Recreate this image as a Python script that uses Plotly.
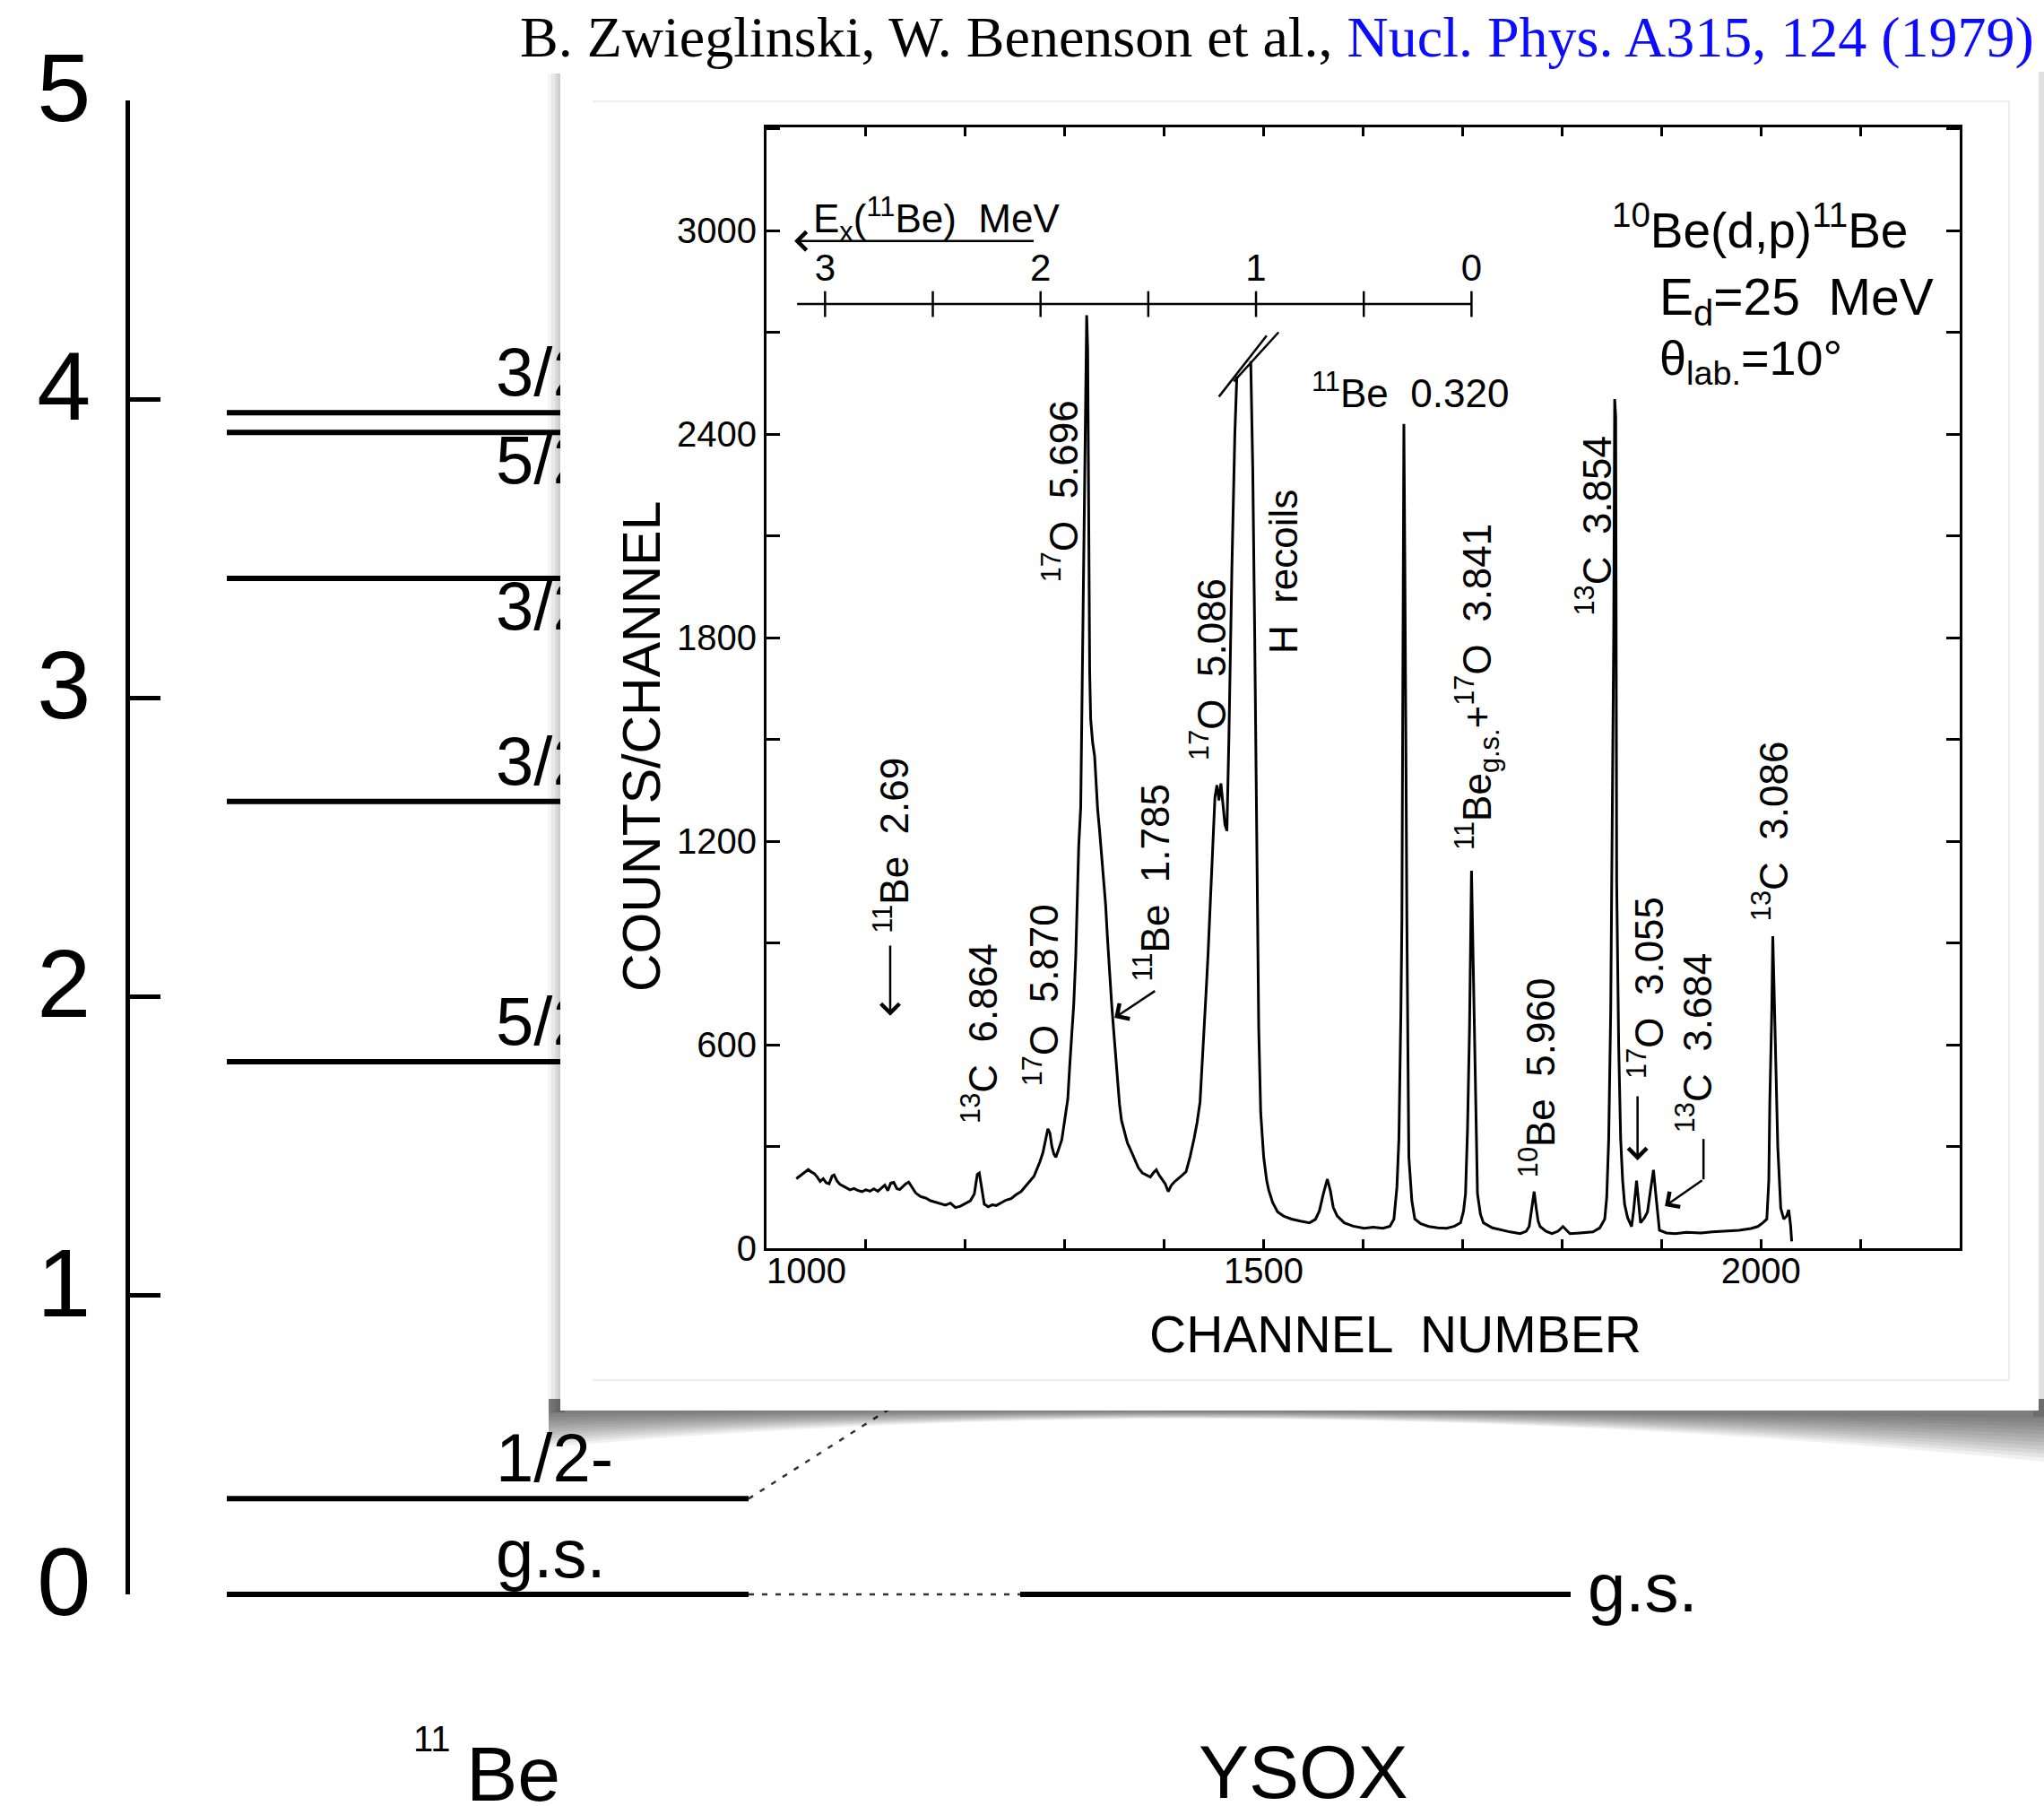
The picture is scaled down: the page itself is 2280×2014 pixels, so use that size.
import plotly.graph_objects as go

FIG_W, FIG_H = 2280, 2014

# ---------------- 11Be level scheme (MeV) ----------------
be11_energies = [0.0, 0.320, 1.783, 2.654, 3.400, 3.889, 3.955]
be11_spins = ["g.s.", "1/2-", "5/2+", "3/2-", "3/2-", "5/2-", "3/2-"]
be11_label_pos = ["top right", "top right", "top right", "top right",
                  "bottom right", "bottom right", "top right"]
ysox_energies = [0.0, 0.90]
ysox_labels = ["g.s.", ""]
# dotted links: (index in be11_energies, index in ysox_energies)
level_links = [(0, 0), (1, 1)]
energy_ticks = [0, 1, 2, 3, 4, 5]

# ---------------- 10Be(d,p)11Be spectrum, E_d = 25 MeV ----------------
spec_channel = [
    1030, 1034, 1038, 1042, 1045, 1048, 1051, 1054, 1057, 1060, 1063, 1066, 1068, 1071,
    1074, 1077, 1080, 1084, 1088, 1092, 1096, 1100, 1104, 1108, 1112, 1116, 1119, 1122,
    1125, 1128, 1131, 1134, 1137, 1140, 1143, 1146, 1150, 1155, 1160, 1165, 1170, 1175,
    1180, 1185, 1190, 1195, 1200, 1205, 1209, 1212, 1214, 1216, 1219, 1223, 1227, 1231,
    1236, 1241, 1246, 1251, 1256, 1261, 1265, 1269, 1272, 1275, 1278, 1281, 1283, 1285,
    1287, 1289, 1291, 1293, 1295, 1297, 1300, 1303, 1305, 1307, 1309, 1311, 1313, 1314,
    1316, 1318, 1320, 1322, 1323, 1324, 1325, 1326, 1328, 1330, 1333, 1335, 1337, 1339,
    1341, 1343, 1345, 1347, 1349, 1351, 1353, 1355, 1357, 1360, 1363, 1366, 1370, 1374,
    1378, 1382, 1386, 1389, 1392, 1395, 1398, 1401, 1404, 1407, 1410, 1414, 1418, 1422,
    1426, 1430, 1433, 1436, 1438, 1440, 1442, 1444, 1446, 1448, 1450, 1451, 1453, 1455,
    1457, 1459, 1461, 1463, 1465, 1468, 1471, 1473, None, 1487, 1489, 1491, 1493, 1495,
    1497, 1500, 1503, 1505, 1509, 1514, 1520, 1528, 1537, 1546, 1552, 1556, 1560, 1564,
    1567, 1570, 1574, 1581, 1590, 1601, 1610, 1620, 1627, 1631, 1634, 1636, 1638, 1639,
    1640, 1641, 1642, 1643, 1644, 1645, 1646, 1649, 1652, 1658, 1666, 1675, 1684, 1692,
    1698, 1701, 1703, 1705, 1707, 1709, 1711, 1712, 1714, 1715, 1718, 1721, 1730, 1739,
    1748, 1758, 1764, 1767, 1770, 1772, 1774, 1776, 1778, 1784, 1790, 1796, 1801, 1804,
    1808, 1818, 1831, 1838, 1843, 1845, 1847, 1849, 1850, 1852, 1853, 1854, 1855, 1857,
    1859, 1861, 1863, 1866, 1870, 1872, 1875, 1877, 1879, 1883, 1886, 1889, 1892, 1895,
    1898, 1905, 1914, 1925, 1940, 1951, 1965, 1978, 1990, 1997, 2002, 2006, 2008, 2009,
    2011, 2012, 2013, 2015, 2017, 2020, 2023, 2026, 2028, 2029, 2030, 2031,
]
spec_counts = [
    205, 214, 222, 232, 225, 220, 210, 197, 205, 193, 190, 213, 216, 198,
    188, 183, 178, 172, 176, 170, 167, 172, 168, 175, 168, 177, 186, 170,
    192, 194, 176, 173, 183, 190, 195, 180, 163, 152, 148, 140, 135, 130,
    127, 133, 120, 124, 131, 140, 160, 218, 222, 185, 130, 122, 128, 126,
    135, 142, 146, 158, 167, 183, 198, 212, 232, 255, 282, 320, 352, 340,
    300, 278, 268, 285, 305, 320, 380, 440, 540, 625, 720, 860, 1050, 1186,
    1300, 1800, 2350, 2750, 2650, 2200, 1700, 1560, 1490, 1450, 1294, 1230, 1165, 1090,
    1014, 910, 809, 725, 647, 565, 485, 425, 377, 340, 310, 291, 262, 237,
    222, 215, 210, 222, 231, 215, 204, 190, 167, 185, 195, 204, 215, 226,
    270, 323, 370, 431, 530, 647, 750, 863, 1000, 1132, 1280, 1330, 1365, 1320,
    1370, 1300, 1250, 1230, 1500, 2000, 2400, 2570, None, 2615, 2300, 1800, 1200, 650,
    400, 269, 200, 172, 135, 107, 95, 86, 80, 75, 85, 110, 160, 204,
    170, 120, 95, 75, 65, 59, 62, 59, 65, 86, 180, 323, 700, 970,
    1700, 2430, 2000, 1300, 970, 600, 269, 140, 86, 72, 64, 60, 59, 65,
    75, 110, 161, 350, 647, 1113, 800, 647, 300, 161, 100, 75, 60, 53,
    48, 43, 50, 64, 120, 167, 120, 80, 64, 50, 43, 50, 64, 55,
    43, 45, 48, 60, 86, 150, 323, 700, 1078, 1800, 2503, 2450, 1078, 600,
    323, 200, 129, 90, 64, 110, 199, 140, 75, 90, 107, 170, 231, 140,
    53, 45, 43, 47, 45, 48, 50, 53, 58, 64, 75, 86, 200, 431,
    700, 920, 800, 539, 300, 118, 86, 95, 113, 90, 64, 20,
]

# Ex(11Be) scale drawn above the spectrum
ex_ticks = [0, 0.5, 1, 1.5, 2, 2.5, 3]
ex_labelled = [0, 1, 2, 3]
ex_zero_channel = 1709.0
channels_per_mev = 216.7
ex_scale_end = 3.13

# "//" marks where the H-recoil peak runs off scale: (channel, counts) pairs
break_mark_a = ([1455, 1503], [2510, 2690])
break_mark_b = ([1470, 1515], [2555, 2700])

# peak identifications: text, channel, counts, angle
peak_labels = [
    ("<sup>11</sup>Be  2.69", 1126, 1187, -90),
    ("<sup>13</sup>C  6.864", 1214.6, 632, -90),
    ("<sup>17</sup>O  5.870", 1276, 745, -90),
    ("<sup>17</sup>O  5.696", 1296, 2231, -90),
    ("<sup>11</sup>Be  1.785", 1387, 1078, -90),
    ("<sup>17</sup>O  5.086", 1444.5, 1705, -90),
    ("H  recoils", 1520.3, 1993, -90),
    ("<sup>11</sup>Be  0.320", 1647.4, 2527, 0),
    ("<sup>11</sup>Be<sub>g.s.</sub>+<sup>17</sup>O  3.841", 1715, 1655, -90),
    ("<sup>13</sup>C  3.854", 1832, 2131, -90),
    ("<sup>10</sup>Be  5.960", 1774.6, 502, -90),
    ("<sup>17</sup>O  3.055", 1884.6, 767, -90),
    ("<sup>13</sup>C  3.684", 1932.4, 605, -90),
    ("<sup>13</sup>C  3.086", 2009, 1229, -90),
]
# arrows: head channel, head counts, tail channel, tail counts
peak_arrows = [
    (1124.4, 685, 1124.4, 896),
    (1350, 679, 1392, 761),
    (1876, 259, 1876, 452),
    (1903.5, 124, 1942.3, 203),
]
# vertical leg of the bent 13C 3.684 pointer
bent_leg = ([1942.3, 1942.3], [322, 203])

SANS = "Liberation Sans, Arial, sans-serif"
NARROW = "Liberation Sans Narrow, Arial Narrow, Liberation Sans, sans-serif"
SERIF = "Liberation Serif, Times New Roman, serif"

# ---------------- layout geometry (diagram units) ----------------
BE_X = (253, 835)
YSOX_X = (1138, 1752)
SPIN_X = 553
Y_LO, Y_HI = -0.7083, 5.3361

fig = go.Figure()


def segments(x0, x1, ys):
    xs, yy = [], []
    for y in ys:
        xs += [x0, x1, None]
        yy += [y, y, None]
    return xs, yy


# 11Be levels
lx, ly = segments(BE_X[0], BE_X[1], be11_energies)
fig.add_trace(go.Scatter(x=lx, y=ly, mode="lines", line=dict(color="black", width=6),
                         xaxis="x", yaxis="y", hoverinfo="skip", showlegend=False))
# YSOX levels
yx, yy = segments(YSOX_X[0], YSOX_X[1], ysox_energies)
fig.add_trace(go.Scatter(x=yx, y=yy, mode="lines", line=dict(color="black", width=6),
                         xaxis="x", yaxis="y", hoverinfo="skip", showlegend=False))
# dotted correspondences
cx, cy = [], []
for i, j in level_links:
    cx += [BE_X[1], YSOX_X[0], None]
    cy += [be11_energies[i], ysox_energies[j], None]
fig.add_trace(go.Scatter(x=cx, y=cy, mode="lines",
                         line=dict(color="#333333", width=2.5, dash="6px,9px"),
                         xaxis="x", yaxis="y", hoverinfo="skip", showlegend=False))
# spin labels
for e, s, p in zip(be11_energies, be11_spins, be11_label_pos):
    fig.add_trace(go.Scatter(x=[SPIN_X], y=[e], mode="text", text=[s], textposition=p,
                             textfont=dict(family=SANS, size=76, color="black"),
                             xaxis="x", yaxis="y", hoverinfo="skip", showlegend=False))
fig.add_trace(go.Scatter(x=[YSOX_X[1] + 19], y=[ysox_energies[0]], mode="text",
                         text=[ysox_labels[0]], textposition="middle right",
                         textfont=dict(family=SANS, size=76, color="black"),
                         xaxis="x", yaxis="y", hoverinfo="skip", showlegend=False))

# panel layer (the inset sheet sits above the level scheme)
fig.add_trace(go.Scatter(x=[0], y=[0], mode="markers", marker=dict(opacity=0),
                         xaxis="x2", yaxis="y2", hoverinfo="skip", showlegend=False))

# spectrum
fig.add_trace(go.Scatter(x=spec_channel, y=spec_counts, mode="lines",
                         line=dict(color="black", width=3), connectgaps=False,
                         xaxis="x3", yaxis="y3", hoverinfo="skip", showlegend=False))

# Ex scale
EX_LEVEL = 2783
EX_HALF = 38


def ex_to_channel(e):
    return ex_zero_channel - channels_per_mev * e


sx = [ex_to_channel(ex_scale_end), ex_to_channel(0), None]
sy = [EX_LEVEL, EX_LEVEL, None]
for e in ex_ticks:
    sx += [ex_to_channel(e), ex_to_channel(e), None]
    sy += [EX_LEVEL - EX_HALF, EX_LEVEL + EX_HALF, None]
fig.add_trace(go.Scatter(x=sx, y=sy, mode="lines", line=dict(color="black", width=2.5),
                         xaxis="x3", yaxis="y3", hoverinfo="skip", showlegend=False))
fig.add_trace(go.Scatter(x=[ex_to_channel(e) for e in ex_labelled], y=[2881] * len(ex_labelled),
                         mode="text", text=[str(e) for e in ex_labelled],
                         textposition="middle center",
                         textfont=dict(family=SANS, size=42, color="black"),
                         xaxis="x3", yaxis="y3", hoverinfo="skip", showlegend=False))
# break marks and bent pointer leg
bx = break_mark_a[0] + [None] + break_mark_b[0] + [None] + bent_leg[0]
by = break_mark_a[1] + [None] + break_mark_b[1] + [None] + bent_leg[1]
fig.add_trace(go.Scatter(x=bx, y=by, mode="lines", line=dict(color="black", width=2.5),
                         xaxis="x3", yaxis="y3", hoverinfo="skip", showlegend=False))

# energy scale bracket
fig.add_trace(go.Scatter(x=[], y=[], xaxis="x4", yaxis="y4", hoverinfo="skip",
                         showlegend=False))

# ---------------- sheet (panel) shapes ----------------
shapes = []
# curled-page shadow under the sheet, built from thin translucent layers
N_SHADE = 12
outer = (1614, 1630, 1543)   # left edge y, right edge y, curve control y
inner = (1577, 1582, 1569)
for k in range(N_SHADE):
    t = k / (N_SHADE - 1)
    ly_, ry_, my_ = [o + (i - o) * t for o, i in zip(outer, inner)]
    shapes.append(dict(type="path", xref="x2", yref="y2", layer="below",
                       path=f"M 612 1560 L 2280 1560 L 2280 {ry_:.1f} Q 1400 {my_:.1f} 612 {ly_:.1f} Z",
                       fillcolor="rgba(0,0,0,0.055)", line=dict(width=0)))
for x0, alpha in [(611, 0.04), (615, 0.05), (619, 0.06), (622, 0.06)]:
    shapes.append(dict(type="rect", xref="x2", yref="y2", layer="below",
                       x0=x0, x1=630, y0=82, y1=1575,
                       fillcolor=f"rgba(0,0,0,{alpha})", line=dict(width=0)))
shapes.append(dict(type="rect", xref="x2", yref="y2", layer="below",
                   x0=2268, x1=2280, y0=80, y1=1580,
                   fillcolor="rgba(0,0,0,0.12)", line=dict(width=0)))
shapes.append(dict(type="rect", xref="x2", yref="y2", layer="below",
                   x0=625, x1=2274, y0=80, y1=1573,
                   fillcolor="white", line=dict(width=0)))
shapes.append(dict(type="path", xref="x2", yref="y2", layer="below",
                   path="M 661 113 L 2241 113 L 2241 1539 L 661 1539",
                   line=dict(color="#e9e9e9", width=1.5)))

# ---------------- annotations ----------------
ann = []
ann.append(dict(xref="paper", yref="paper", x=2271 / FIG_W, y=1 - 41 / FIG_H,
                xanchor="right", yanchor="middle", showarrow=False,
                text="B. Zwieglinski, W. Benenson et al., "
                     "<span style='color:#0b0bff'>Nucl. Phys. A315, 124 (1979)</span>",
                font=dict(family=SERIF, size=64, color="black")))
ann.append(dict(xref="x", yref="y", x=482, y=-0.483, showarrow=False, text="11",
                xanchor="center", yanchor="middle",
                font=dict(family=SANS, size=40, color="black")))
ann.append(dict(xref="x", yref="y", x=572, y=-0.60, showarrow=False, text="Be",
                xanchor="center", yanchor="middle",
                font=dict(family=SANS, size=86, color="black")))
ann.append(dict(xref="x", yref="y", x=sum(YSOX_X) / 2 + 8, y=-0.595, showarrow=False,
                text="YSOX", xanchor="center", yanchor="middle",
                font=dict(family=NARROW, size=84, color="black")))

for text, ch, c, ang in peak_labels:
    ann.append(dict(xref="x3", yref="y3", x=ch, y=c, text=text, textangle=ang,
                    showarrow=False, xanchor="center", yanchor="middle",
                    font=dict(family=SANS, size=44, color="black")))
for hx, hy, tx, ty in peak_arrows:
    ann.append(dict(xref="x3", yref="y3", axref="x3", ayref="y3", x=hx, y=hy, ax=tx, ay=ty,
                    text="", showarrow=True, arrowhead=4, arrowsize=1.6, arrowwidth=2.5,
                    arrowcolor="black", standoff=0, startstandoff=0))
# Ex(11Be) header with its leftward arrow
ann.append(dict(xref="x3", yref="y3", x=1045, y=3032, xanchor="left", yanchor="middle",
                text="E<sub>x</sub>(<sup>11</sup>Be)  MeV", showarrow=False,
                font=dict(family=SANS, size=44, color="black")))
ann.append(dict(xref="x3", yref="y3", axref="x3", ayref="y3", x=1028, y=2969, ax=1270, ay=2969,
                text="", showarrow=True, arrowhead=4, arrowsize=1.6, arrowwidth=2.5,
                arrowcolor="black", standoff=0, startstandoff=0))
# reaction block
ann.append(dict(xref="x3", yref="y3", x=1848.5, y=3011, xanchor="left", yanchor="middle",
                text="<sup>10</sup>Be(d,p)<sup>11</sup>Be", showarrow=False,
                font=dict(family=SANS, size=55, color="black")))
ann.append(dict(xref="x3", yref="y3", x=1896.3, y=2794, xanchor="left", yanchor="middle",
                text="E<sub>d</sub>=25  MeV", showarrow=False,
                font=dict(family=SANS, size=57, color="black")))
ann.append(dict(xref="x3", yref="y3", x=1896.3, y=2615, xanchor="left", yanchor="middle",
                text="θ<sub>lab.</sub>=10°", showarrow=False,
                font=dict(family=SANS, size=54, color="black")))
# axis titles of the spectrum
ann.append(dict(xref="paper", yref="paper", x=716 / FIG_W, y=1 - 833 / FIG_H,
                xanchor="center", yanchor="middle",
                text="COUNTS/CHANNEL", textangle=-90, showarrow=False,
                font=dict(family=SANS, size=59, color="black")))
ann.append(dict(xref="paper", yref="paper", x=1556 / FIG_W, y=1 - 1488 / FIG_H,
                xanchor="center", yanchor="middle",
                text="CHANNEL  NUMBER", showarrow=False,
                font=dict(family=SANS, size=57, color="black")))

# ---------------- axes ----------------
x_ticks = list(range(1000, 2201, 100))
x_text = ["\u2007\u2007\u2007\u20071000" if v == 1000 else (str(v) if v in (1500, 2000) else "")
          for v in x_ticks]
y_ticks = list(range(0, 3301, 300))
y_text = [str(v) if v % 600 == 0 else "" for v in y_ticks]

hidden = dict(visible=False, showgrid=False, zeroline=False, fixedrange=True,
              automargin=False)
frame = dict(showline=True, linecolor="black", linewidth=3, mirror="ticks",
             ticks="inside", tickcolor="black", showgrid=False, zeroline=False,
             automargin=False, tickfont=dict(family=SANS, size=40, color="black"))

fig.update_layout(
    template="none",
    width=FIG_W, height=FIG_H, autosize=False,
    margin=dict(l=0, r=0, t=0, b=0, pad=0),
    paper_bgcolor="white", plot_bgcolor="rgba(0,0,0,0)",
    showlegend=False,
    xaxis=dict(domain=[0, 1], range=[0, FIG_W], anchor="y", **hidden),
    yaxis=dict(domain=[0, 1], range=[Y_LO, Y_HI], anchor="x", **hidden),
    xaxis2=dict(domain=[0, 1], range=[0, FIG_W], anchor="y2", **hidden),
    yaxis2=dict(domain=[0, 1], range=[FIG_H, 0], anchor="x2", **hidden),
    xaxis3=dict(domain=[855 / FIG_W, 2186 / FIG_W], range=[1000, 2200], anchor="y3",
                tickvals=x_ticks, ticktext=x_text, ticklen=10, tickwidth=2.5,
                ticklabelstandoff=-12, **frame),
    yaxis3=dict(domain=[(FIG_H - 1392) / FIG_H, (FIG_H - 142) / FIG_H], range=[0, 3304],
                anchor="x3", tickvals=y_ticks, ticktext=y_text, ticklen=15, tickwidth=2.5,
                **frame),
    xaxis4=dict(domain=[145 / FIG_W, 160 / FIG_W], range=[0, 1], anchor="y4", **hidden),
    yaxis4=dict(domain=[(FIG_H - 1778) / FIG_H, (FIG_H - 112) / FIG_H], range=[0, 5],
                anchor="x4", side="left", showline=True, linecolor="black", linewidth=5,
                ticks="inside", ticklen=34, tickwidth=5, tickcolor="black",
                tickvals=energy_ticks, ticklabelshift=-15, ticklabelstandoff=17,
                automargin=False, tickfont=dict(family=SANS, size=108, color="black"),
                showgrid=False, zeroline=False),
    shapes=shapes,
    annotations=ann,
)

fig.write_html("out.html")
